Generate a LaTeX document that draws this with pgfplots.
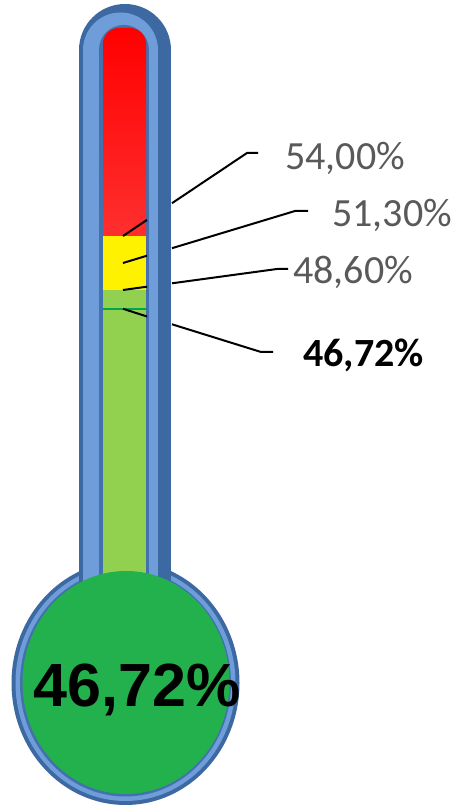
\documentclass[border=0pt]{standalone}
\usepackage{pgfplots}
\pgfplotsset{compat=1.18}
\usepackage{fontspec}
\setmainfont{Carlito}
\newfontfamily\arialfont{Liberation Sans}
\definecolor{glassdark}{HTML}{3D69A3}
\definecolor{glasslight}{HTML}{6E9DD9}
\definecolor{groove}{HTML}{4271AD}
\definecolor{lgreen}{HTML}{92D050}
\definecolor{dgreen}{HTML}{22B14C}
\definecolor{markgreen}{HTML}{00A550}
\definecolor{lblgray}{HTML}{595959}
\begin{document}
\begin{tikzpicture}
\begin{axis}[x=0.5pt, y=5pt, xmin=0, xmax=458, ymin=-3.2, ymax=77.6,
  hide axis, clip=false, every axis plot/.append style={mark=none}]
\path[draw=none] (rel axis cs:0,0) rectangle (rel axis cs:1,1);
% bulb glass
\draw[draw=none, fill=glassdark] (axis cs:125.5,9.3) ellipse [x radius=114, y radius=12.2];
\draw[draw=none, fill=glasslight] (axis cs:125.5,9.3) ellipse [x radius=110, y radius=11.8];
\draw[draw=none, fill=groove] (axis cs:125.5,9.3) ellipse [x radius=105.5, y radius=11.35];
% tube glass
\addplot[glassdark, line width=46pt, line cap=round] coordinates {(125,72.6) (125,19.1)};
\addplot[glasslight, line width=37.5pt, line cap=round] coordinates {(120.5,72.6) (120.5,19.1)};
\addplot[groove, line width=25pt, line cap=round] coordinates {(123.5,72.6) (123.5,19.1)};
% thermometer fill (levels)
\addplot[draw=none, top color=red, bottom color=red!78!white, rounded corners=8pt]
  coordinates {(103,50) (103,74.8) (146,74.8) (146,50)} -- cycle;
\addplot[draw=none, fill=yellow] coordinates {(103,48.6) (103,54.0) (146,54.0) (146,48.6)} -- cycle;
\addplot[draw=none, fill=lgreen] coordinates {(103,17.0) (103,48.6) (146,48.6) (146,17.0)} -- cycle;
\addplot[markgreen, line width=1pt] coordinates {(103,46.72) (146,46.72)};
% bulb liquid
\draw[draw=none, fill=dgreen] (axis cs:126,9.35) ellipse [x radius=103.5, y radius=11.15];
% leader lines
\addplot[black, line width=1pt] coordinates {(123,54.0) (147,55.61)};
\addplot[black, line width=1pt] coordinates {(172,57.28) (247,62.3) (258,62.3)};
\addplot[black, line width=1pt] coordinates {(123,51.3) (147,52.03)};
\addplot[black, line width=1pt] coordinates {(172,52.78) (295,56.5) (308,56.5)};
\addplot[black, line width=1pt] coordinates {(123,48.6) (147,48.93)};
\addplot[black, line width=1pt] coordinates {(172,49.27) (277,50.7) (288,50.7)};
\addplot[black, line width=1pt] coordinates {(123,46.72) (147,45.95)};
\addplot[black, line width=1pt] coordinates {(172,45.17) (261,42.4) (273,42.4)};
% labels
\node[anchor=base west, inner sep=0pt, text=lblgray, font=\fontsize{20}{24}\selectfont] at (axis cs:285,60.67) {54,00\%};
\node[anchor=base west, inner sep=0pt, text=lblgray, font=\fontsize{20}{24}\selectfont] at (axis cs:332,54.93) {51,30\%};
\node[anchor=base west, inner sep=0pt, text=lblgray, font=\fontsize{20}{24}\selectfont] at (axis cs:293,49.27) {48,60\%};
\node[anchor=base west, inner sep=0pt, text=black, font=\fontsize{20}{24}\selectfont\bfseries] at (axis cs:303,40.93) {46,72\%};
\node[anchor=base west, inner sep=0pt, text=black, font=\arialfont\fontsize{30.5}{36}\selectfont\bfseries] at (axis cs:33,6.93) {46,72\%};
\end{axis}
\end{tikzpicture}
\end{document}
